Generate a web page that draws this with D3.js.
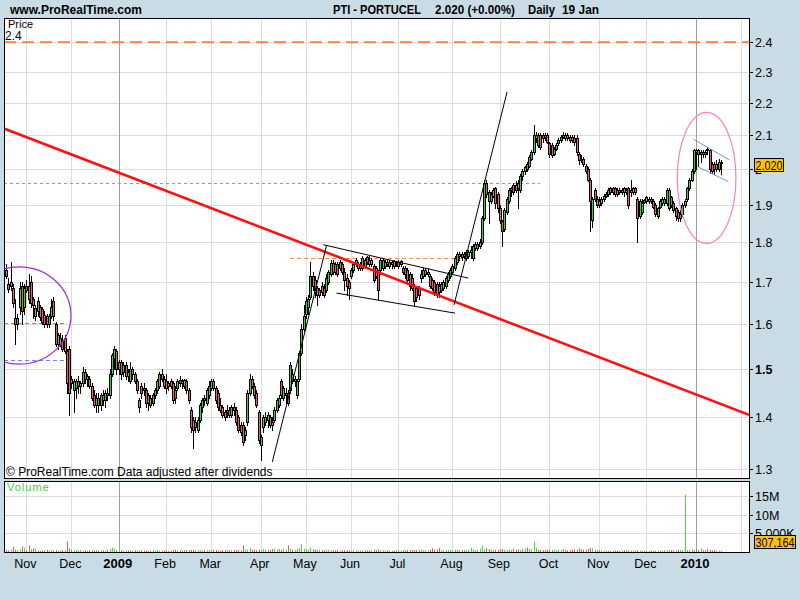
<!DOCTYPE html>
<html><head><meta charset="utf-8">
<script src="https://cdn.jsdelivr.net/npm/d3@7"></script>
<style>
body{margin:0;background:#c9dce6;}
svg{display:block;font-family:Arial,"Liberation Sans",sans-serif;}
</style>
</head><body>
<svg id="chart" width="800" height="600"></svg>
<script>
// ---------- DATA ----------
const opens=[
1.73,1.695,1.69,1.685,1.615,1.60,1.64,1.69,1.64,1.69,
1.69,1.70,1.66,1.62,1.655,1.64,1.635,1.622,1.62,1.60,
1.62,1.655,1.60,1.555,1.57,1.565,1.57,1.54,1.545,1.48,
1.455,1.46,1.475,1.465,1.47,1.495,1.48,1.48,1.465,1.445,
1.425,1.44,1.425,1.445,1.435,1.45,1.445,1.49,1.525,1.54,
1.50,1.515,1.495,1.51,1.485,1.475,1.50,1.49,1.475,1.42,
1.465,1.46,1.455,1.445,1.425,1.43,1.445,1.455,1.465,1.49,
1.48,1.475,1.465,1.475,1.47,1.455,1.46,1.478,1.475,1.465,
1.475,1.455,1.415,1.395,1.39,1.375,1.395,1.42,1.44,1.43,
1.445,1.46,1.475,1.46,1.45,1.425,1.42,1.41,1.41,1.415,
1.405,1.42,1.415,1.40,1.385,1.385,1.365,1.39,1.45,1.48,
1.465,1.45,1.41,1.345,1.38,1.39,1.395,1.40,1.39,1.395,
1.415,1.425,1.475,1.44,1.445,1.45,1.455,1.49,1.475,1.445,
1.48,1.535,1.59,1.625,1.64,1.665,1.715,1.705,1.685,1.67,
1.69,1.685,1.68,1.70,1.72,1.748,1.745,1.745,1.735,1.745,
1.725,1.71,1.70,1.715,1.73,1.745,1.735,1.745,1.735,1.74,
1.762,1.755,1.745,1.74,1.735,1.725,1.73,1.735,1.74,1.745,
1.74,1.745,1.752,1.745,1.74,1.745,1.735,1.735,1.73,1.72,
1.71,1.69,1.685,1.685,1.71,1.715,1.72,1.72,1.715,1.705,
1.70,1.695,1.69,1.68,1.685,1.69,1.705,1.715,1.725,1.735,
1.75,1.765,1.77,1.77,1.76,1.765,1.775,1.76,1.785,1.785,
1.79,1.80,1.865,1.96,1.935,1.91,1.925,1.945,1.93,1.89,
1.855,1.835,1.88,1.91,1.94,1.955,1.955,1.96,1.94,1.98,
1.995,2.015,2.01,2.03,2.05,2.09,2.10,2.10,2.10,2.10,
2.10,2.075,2.07,2.045,2.06,2.075,2.085,2.095,2.10,2.10,
2.095,2.095,2.09,2.09,2.045,2.03,2.03,2.01,2.00,1.97,
1.86,1.94,1.915,1.91,1.905,1.915,1.925,1.93,1.945,1.945,
1.945,1.94,1.94,1.935,1.945,1.935,1.945,1.94,1.935,1.945,
1.915,1.87,1.88,1.912,1.91,1.915,1.91,1.91,1.90,1.87,
1.895,1.905,1.905,1.905,1.89,1.92,1.905,1.89,1.88,1.865,
1.875,1.90,1.915,1.945,1.97,1.995,2.055,2.055,2.045,2.045,
2.045,2.06,2.055,2.015,2.015,2.00,2.00,2.02];
const highs=[
1.745,1.71,1.75,1.695,1.66,1.625,1.70,1.70,1.695,1.705,
1.72,1.715,1.665,1.645,1.665,1.645,1.64,1.63,1.625,1.625,
1.66,1.665,1.605,1.58,1.58,1.575,1.575,1.545,1.55,1.485,
1.48,1.48,1.485,1.475,1.505,1.50,1.49,1.485,1.47,1.455,
1.45,1.45,1.45,1.455,1.455,1.46,1.50,1.535,1.55,1.545,
1.52,1.52,1.515,1.515,1.50,1.515,1.505,1.495,1.48,1.44,
1.47,1.47,1.46,1.45,1.445,1.45,1.46,1.48,1.495,1.50,
1.485,1.49,1.475,1.48,1.475,1.465,1.48,1.485,1.48,1.48,
1.48,1.46,1.42,1.40,1.40,1.40,1.43,1.44,1.445,1.46,
1.475,1.48,1.48,1.465,1.455,1.44,1.425,1.415,1.425,1.42,
1.425,1.43,1.42,1.405,1.39,1.39,1.38,1.455,1.49,1.485,
1.47,1.455,1.415,1.365,1.405,1.41,1.41,1.405,1.40,1.42,
1.44,1.445,1.48,1.465,1.46,1.455,1.515,1.50,1.485,1.48,
1.54,1.60,1.645,1.665,1.67,1.75,1.725,1.715,1.69,1.685,
1.70,1.695,1.72,1.73,1.755,1.755,1.75,1.75,1.755,1.75,
1.735,1.72,1.705,1.735,1.75,1.76,1.75,1.75,1.765,1.76,
1.765,1.765,1.76,1.745,1.74,1.73,1.76,1.76,1.755,1.755,
1.755,1.752,1.755,1.75,1.755,1.755,1.74,1.74,1.735,1.725,
1.72,1.695,1.69,1.69,1.73,1.735,1.735,1.735,1.72,1.71,
1.705,1.70,1.70,1.70,1.705,1.715,1.725,1.735,1.745,1.765,
1.775,1.775,1.775,1.775,1.78,1.78,1.79,1.795,1.80,1.80,
1.81,1.87,1.97,1.97,1.94,1.935,1.945,1.95,1.935,1.90,
1.86,1.89,1.92,1.945,1.95,1.96,1.965,1.97,1.985,2.00,
2.01,2.02,2.04,2.055,2.13,2.11,2.105,2.105,2.105,2.105,
2.105,2.08,2.075,2.065,2.075,2.09,2.10,2.11,2.105,2.105,
2.10,2.10,2.10,2.10,2.05,2.04,2.035,2.015,2.005,1.975,
1.92,1.945,1.925,1.92,1.92,1.93,1.935,1.945,1.95,1.95,
1.95,1.945,1.945,1.945,1.95,1.945,1.95,1.97,1.95,1.95,
1.92,1.915,1.915,1.915,1.925,1.92,1.92,1.915,1.905,1.895,
1.915,1.92,1.92,1.945,1.945,1.925,1.91,1.895,1.885,1.885,
1.905,1.915,1.95,1.975,2.00,2.06,2.06,2.06,2.055,2.055,
2.055,2.065,2.06,2.02,2.02,2.025,2.03,2.025];
const lows=[
1.71,1.675,1.68,1.64,1.555,1.59,1.625,1.60,1.625,1.675,
1.65,1.64,1.615,1.61,1.62,1.61,1.60,1.595,1.595,1.595,
1.615,1.61,1.55,1.545,1.55,1.54,1.535,1.45,1.405,1.46,
1.41,1.44,1.45,1.45,1.465,1.47,1.465,1.46,1.435,1.42,
1.41,1.41,1.415,1.425,1.42,1.435,1.44,1.485,1.50,1.49,
1.49,1.48,1.485,1.48,1.475,1.47,1.48,1.47,1.45,1.41,
1.44,1.445,1.42,1.415,1.42,1.425,1.44,1.45,1.46,1.475,
1.46,1.45,1.455,1.46,1.43,1.43,1.455,1.465,1.46,1.46,
1.45,1.43,1.37,1.34,1.37,1.37,1.39,1.41,1.425,1.425,
1.44,1.455,1.455,1.43,1.415,1.41,1.40,1.395,1.40,1.40,
1.40,1.405,1.385,1.37,1.365,1.345,1.355,1.385,1.445,1.46,
1.44,1.42,1.35,1.317,1.37,1.385,1.38,1.38,1.375,1.39,
1.41,1.42,1.44,1.435,1.43,1.425,1.45,1.47,1.465,1.44,
1.475,1.53,1.585,1.615,1.625,1.66,1.68,1.665,1.645,1.665,
1.67,1.665,1.675,1.695,1.715,1.72,1.72,1.715,1.73,1.72,
1.68,1.67,1.66,1.71,1.725,1.74,1.73,1.73,1.73,1.735,
1.745,1.74,1.74,1.70,1.71,1.66,1.72,1.73,1.735,1.74,
1.735,1.735,1.735,1.74,1.735,1.74,1.72,1.71,1.70,1.68,
1.68,1.645,1.655,1.66,1.70,1.71,1.715,1.715,1.685,1.68,
1.67,1.665,1.665,1.675,1.68,1.685,1.70,1.71,1.72,1.73,
1.745,1.755,1.755,1.76,1.755,1.76,1.76,1.755,1.78,1.78,
1.785,1.795,1.86,1.92,1.85,1.905,1.92,1.89,1.88,1.85,
1.79,1.83,1.875,1.905,1.925,1.93,1.935,1.89,1.935,1.97,
1.985,1.995,2.005,2.025,2.045,2.08,2.065,2.06,2.08,2.085,
2.075,2.035,2.035,2.04,2.055,2.07,2.08,2.09,2.085,2.085,
2.08,2.08,2.07,2.04,2.015,2.02,2.01,1.99,1.965,1.83,
1.84,1.91,1.895,1.895,1.90,1.91,1.92,1.925,1.93,1.93,
1.925,1.925,1.93,1.93,1.925,1.93,1.89,1.925,1.93,1.93,
1.80,1.865,1.875,1.905,1.905,1.905,1.905,1.89,1.87,1.865,
1.89,1.90,1.90,1.90,1.885,1.895,1.88,1.86,1.855,1.855,
1.87,1.895,1.91,1.94,1.965,1.99,2.00,2.01,2.02,2.035,
2.035,2.045,1.99,1.99,1.985,1.995,1.995,1.985];
const closes=[
1.715,1.683,1.70,1.65,1.60,1.615,1.685,1.63,1.685,1.68,
1.66,1.65,1.645,1.637,1.63,1.618,1.605,1.60,1.60,1.62,
1.64,1.62,1.555,1.575,1.555,1.545,1.54,1.47,1.45,1.47,
1.475,1.475,1.465,1.47,1.495,1.48,1.485,1.465,1.44,1.425,
1.44,1.425,1.445,1.435,1.45,1.445,1.49,1.53,1.545,1.50,
1.515,1.49,1.51,1.485,1.495,1.50,1.49,1.475,1.455,1.435,
1.45,1.455,1.43,1.43,1.44,1.445,1.455,1.475,1.49,1.48,
1.465,1.46,1.47,1.465,1.435,1.44,1.475,1.47,1.47,1.478,
1.455,1.435,1.38,1.375,1.38,1.395,1.425,1.435,1.435,1.455,
1.465,1.475,1.46,1.435,1.42,1.415,1.405,1.40,1.415,1.405,
1.42,1.415,1.39,1.375,1.37,1.352,1.375,1.45,1.48,1.465,
1.445,1.425,1.355,1.36,1.40,1.40,1.405,1.385,1.385,1.415,
1.435,1.44,1.445,1.46,1.45,1.43,1.51,1.475,1.48,1.475,
1.535,1.59,1.62,1.655,1.66,1.715,1.69,1.675,1.67,1.68,
1.675,1.67,1.71,1.725,1.748,1.725,1.725,1.72,1.75,1.725,
1.705,1.69,1.685,1.73,1.745,1.755,1.745,1.735,1.76,1.755,
1.75,1.745,1.755,1.705,1.715,1.68,1.755,1.755,1.75,1.75,
1.75,1.75,1.74,1.748,1.75,1.752,1.725,1.72,1.705,1.69,
1.685,1.655,1.665,1.67,1.72,1.73,1.73,1.725,1.69,1.685,
1.675,1.67,1.675,1.695,1.70,1.71,1.72,1.73,1.74,1.76,
1.77,1.77,1.762,1.765,1.775,1.775,1.78,1.79,1.795,1.795,
1.80,1.865,1.96,1.93,1.91,1.93,1.94,1.905,1.89,1.86,
1.83,1.885,1.915,1.94,1.945,1.935,1.94,1.945,1.98,1.995,
2.005,2.00,2.035,2.05,2.10,2.10,2.07,2.065,2.09,2.095,
2.08,2.045,2.04,2.06,2.07,2.085,2.095,2.10,2.09,2.09,
2.085,2.085,2.08,2.05,2.025,2.025,2.015,1.995,1.97,1.91,
1.915,1.915,1.90,1.90,1.915,1.925,1.93,1.94,1.935,1.935,
1.93,1.93,1.935,1.94,1.935,1.94,1.90,1.935,1.945,1.935,
1.865,1.91,1.905,1.908,1.92,1.91,1.915,1.895,1.875,1.89,
1.91,1.915,1.915,1.94,1.94,1.90,1.885,1.87,1.865,1.875,
1.90,1.91,1.945,1.97,1.995,2.055,2.05,2.045,2.05,2.05,
2.05,2.055,2.00,1.995,2.00,2.015,2.02,2.02];
// volume in millions of shares
const volumes=[
0.55,0.45,0.7,1.4,0.6,0.5,0.75,1.5,1.15,0.4,
1.8,0.7,1.0,0.95,0.4,0.3,0.35,0.4,0.55,0.3,
0.6,0.45,0.5,0.4,0.35,0.5,0.45,2.9,1.0,0.6,
0.45,0.55,0.4,0.5,0.35,0.45,0.3,0.5,0.4,0.45,
0.6,0.35,0.55,0.45,0.3,0.6,0.8,1.2,0.9,0.5,
0.55,0.45,0.4,0.35,0.5,0.4,0.3,0.45,0.35,0.4,
0.5,0.35,0.4,0.3,0.45,0.55,0.4,0.5,0.35,0.3,
0.45,0.4,0.3,0.35,0.5,0.6,0.45,0.4,0.35,0.55,
0.5,0.45,0.6,0.55,0.4,0.5,0.45,0.35,0.5,0.4,
0.45,0.5,0.6,0.55,0.4,0.35,0.5,0.45,0.6,0.5,
0.45,0.6,0.5,0.55,0.45,1.8,0.7,0.6,1.0,0.55,
0.7,0.5,0.6,0.55,0.8,0.65,0.6,0.5,0.8,0.9,
0.7,0.8,0.6,0.9,0.6,1.8,0.9,0.7,0.6,0.8,
1.0,2.1,0.9,0.8,0.6,1.2,0.7,0.6,0.5,0.55,
0.5,0.45,0.6,0.55,0.5,0.4,0.45,0.5,0.4,0.45,
0.5,0.55,0.45,0.4,0.5,0.45,0.4,0.35,0.45,0.5,
0.45,0.4,0.5,0.6,0.45,0.7,0.5,0.45,0.4,0.5,
0.45,0.35,0.4,0.5,0.45,0.4,0.5,0.45,0.6,0.55,
0.5,0.6,0.55,0.5,0.6,0.45,0.5,0.45,0.6,1.0,
0.6,0.7,1.15,0.5,0.45,0.55,0.5,0.6,0.55,0.7,
0.6,0.55,0.5,0.45,0.5,0.6,1.15,0.7,0.5,0.6,
0.9,1.8,0.7,1.0,0.8,0.55,0.5,0.6,0.55,0.7,
0.8,0.6,0.5,0.65,0.55,0.9,0.6,0.7,0.5,0.8,
1.0,1.2,0.9,0.7,2.9,1.15,0.6,0.55,0.5,0.45,
0.6,0.55,0.5,0.7,0.45,0.6,0.5,0.8,0.55,0.45,
0.5,0.6,0.7,0.55,1.0,0.7,0.6,0.65,0.8,1.1,
1.0,0.6,0.5,0.45,0.4,0.35,0.3,0.4,0.35,0.3,
0.4,0.35,0.3,0.45,0.4,0.5,0.45,0.35,0.4,0.3,
0.5,0.4,0.3,0.35,0.45,0.3,0.4,0.35,0.3,0.4,
0.35,0.3,0.45,0.4,0.55,0.5,0.45,0.4,0.6,0.55,
0.45,15.4,0.5,0.45,0.7,0.6,0.8,0.5,1.0,0.6,
0.5,0.8,0.6,0.45,0.5,0.4,0.35,0.307164];

// month boundaries (trading-day index) and labels
const monthIdx=[9,29,50,71,91,113,133,153,174,198,219,241,263,284,306];
const monthLabels=["Nov","Dec","2009","Feb","Mar","Apr","May","Jun","Jul","Aug","Sep","Oct","Nov","Dec","2010"];
const yearIdx=[50,306];
const extraGridIdx=[326];
const priceTicks=[2.4,2.3,2.2,2.1,2.0,1.9,1.8,1.7,1.6,1.5,1.4,1.3];
const priceTickLabels=["2.4","2.3","2.2","2.1","2","1.9","1.8","1.7","1.6","1.5","1.4","1.3"];
const volTicks=[15,10,5];
const volTickLabels=["15M","10M","5,000K"];
const lastPrice=2.020, lastPriceLabel="2.020", lastVolLabel="307,164";
const headerSite="www.ProRealTime.com";
const headerParts=["PTI - PORTUCEL","2.020 (+0.00%)","Daily","19 Jan"];

// drawn annotations, as [trading-day index, price]
const redTrend=[[-0.9,2.12],[329.5,1.405]];
const blackLines=[
  [[118.1,1.313],[142.1,1.791]],
  [[140.7,1.794],[205.0,1.710]],
  [[146.6,1.6735],[199.1,1.626]],
  [[198.7,1.6456],[222.2,2.2346]]];
const blueChannel=[
  [[304.8,2.0877],[320.8,2.0266]],
  [[306.6,2.0073],[320.3,1.9644]]];
const topDashLevel=2.4;
const resistLevel=[126,208.4,1.759];
const blueLevelLong=[-0.9,236.8,1.960];
const blueLevelsLeft=[[-0.9,26.2,1.604],[-0.9,26.2,1.520]];
const leftEllipse={cx:5.8,rx:23.0,top:1.738,bottom:1.511};
const rightEllipse={cx:310.7,rx:13.0,top:2.170,bottom:1.797};

// ---------- DRAWING ----------
const svg=d3.select("#chart");
const L=4,R=749,T=18,B=478,VT=481,VB=552;
const x=d3.scaleLinear().domain([0,317]).range([6,6+317*2.255]);
const y=d3.scaleLog().domain([1.283,2.485]).range([B,T]);
const yv=d3.scaleLinear().domain([0,19]).range([VB,VT+0.3]);
const GREEN="#3fcf3f",RED="#e36464";

const defs=svg.append("defs");
defs.append("clipPath").attr("id","cm").append("rect").attr("x",L).attr("y",T).attr("width",R-L).attr("height",B-T);
defs.append("clipPath").attr("id","cv").append("rect").attr("x",L).attr("y",VT).attr("width",R-L).attr("height",VB-VT);

// header
svg.append("text").attr("x",10).attr("y",14).attr("font-size",12).attr("font-weight","bold").text(headerSite);
const headerX=[333,435,528,562], headerW=[88,80,27,37];
headerParts.forEach((t,k)=>svg.append("text").attr("x",headerX[k]).attr("y",14).attr("font-size",12.5).attr("font-weight","bold")
  .attr("textLength",headerW[k]).attr("lengthAdjust","spacingAndGlyphs").text(t));

// panels
svg.append("rect").attr("x",L+0.5).attr("y",T+0.5).attr("width",R-L).attr("height",B-T).attr("fill","#fff");
svg.append("rect").attr("x",L+0.5).attr("y",VT+0.5).attr("width",R-L).attr("height",VB-VT).attr("fill","#fff");

const gm=svg.append("g").attr("clip-path","url(#cm)");
const gv=svg.append("g").attr("clip-path","url(#cv)");

// grid
const px=v=>Math.round(v)+0.5;
priceTicks.forEach(p=>{
  gm.append("line").attr("x1",L).attr("x2",R).attr("y1",px(y(p))).attr("y2",px(y(p))).attr("stroke","#dcdcdc");
});
volTicks.forEach(v=>{
  gv.append("line").attr("x1",L).attr("x2",R).attr("y1",px(yv(v))).attr("y2",px(yv(v))).attr("stroke","#dcdcdc");
});
monthIdx.concat(extraGridIdx).forEach(i=>{
  const c=yearIdx.includes(i)?"#a0a0a0":"#dcdcdc";
  [gm,gv].forEach(g=>g.append("line").attr("x1",px(x(i))).attr("x2",px(x(i))).attr("y1",T).attr("y2",VB).attr("stroke",c));
});

// level lines
gm.append("line").attr("x1",L).attr("x2",R).attr("y1",y(topDashLevel)).attr("y2",y(topDashLevel))
  .attr("stroke","#ff8040").attr("stroke-width",2).attr("stroke-dasharray","12,6");
gm.append("line").attr("x1",x(blueLevelLong[0])).attr("x2",x(blueLevelLong[1])).attr("y1",px(y(blueLevelLong[2]))).attr("y2",px(y(blueLevelLong[2])))
  .attr("stroke","#7b9be8").attr("stroke-dasharray","3,3");
blueLevelsLeft.forEach(b=>{
  gm.append("line").attr("x1",x(b[0])).attr("x2",x(b[1])).attr("y1",px(y(b[2]))).attr("y2",px(y(b[2])))
    .attr("stroke","#5f8cff").attr("stroke-dasharray","4,3");
});
gm.append("line").attr("x1",x(resistLevel[0])).attr("x2",x(resistLevel[1])).attr("y1",px(y(resistLevel[2]))).attr("y2",px(y(resistLevel[2])))
  .attr("stroke","#ff8833").attr("stroke-dasharray","4,3");

// candles
const idx=d3.range(opens.length);
idx.forEach(i=>{
  const xc=Math.round(x(i));
  const up=closes[i]>=opens[i];
  gm.append("line").attr("x1",xc+0.5).attr("x2",xc+0.5)
    .attr("y1",Math.round(y(highs[i]))).attr("y2",Math.round(y(lows[i]))+1).attr("stroke","#000");
  const y1=Math.round(y(Math.max(opens[i],closes[i]))), y2=Math.round(y(Math.min(opens[i],closes[i])));
  gm.append("rect").attr("x",xc-0.5).attr("y",y1+0.5).attr("width",2).attr("height",Math.max(1,y2-y1))
    .attr("fill",up?GREEN:RED).attr("stroke","#000").attr("stroke-width",1);
});

// trend lines
const line=d3.line().x(d=>x(d[0])).y(d=>y(d[1]));
gm.append("path").attr("d",line(redTrend)).attr("stroke","#ff1010").attr("stroke-width",2.6).attr("fill","none");
blackLines.forEach(l=>gm.append("path").attr("d",line(l)).attr("stroke","#000").attr("stroke-width",1).attr("fill","none"));
blueChannel.forEach(l=>gm.append("path").attr("d",line(l)).attr("stroke","#6f96ee").attr("stroke-width",1).attr("fill","none"));

// ellipses
function ell(e,color){
  const cy=(y(e.top)+y(e.bottom))/2, ry=(y(e.bottom)-y(e.top))/2;
  gm.append("ellipse").attr("cx",x(e.cx)).attr("cy",cy).attr("rx",x(e.cx+e.rx)-x(e.cx)).attr("ry",ry)
    .attr("fill","none").attr("stroke",color).attr("stroke-width",1.2);
}
ell(leftEllipse,"#9a2fd0");
ell(rightEllipse,"#ff7fc0");

// volume bars
idx.forEach(i=>{
  const xc=Math.round(x(i))+0.5;
  gv.append("line").attr("x1",xc).attr("x2",xc).attr("y1",yv(volumes[i])).attr("y2",VB)
    .attr("stroke",closes[i]>=opens[i]?"#44dd44":"#e06060").attr("stroke-width",1);
});

// panel borders
svg.append("rect").attr("x",L+0.5).attr("y",T+0.5).attr("width",R-L).attr("height",B-T).attr("fill","none").attr("stroke","#000");
svg.append("rect").attr("x",L+0.5).attr("y",VT+0.5).attr("width",R-L).attr("height",VB-VT).attr("fill","none").attr("stroke","#000");

// panel texts
svg.append("text").attr("x",8).attr("y",28).attr("font-size",11).text("Price");
svg.append("text").attr("x",5).attr("y",40).attr("font-size",12).text("2.4");
svg.append("text").attr("x",6).attr("y",476).attr("font-size",12).text("© ProRealTime.com  Data adjusted after dividends");
svg.append("text").attr("x",7).attr("y",491).attr("font-size",11).attr("fill","#44cc44").attr("letter-spacing",1).text("Volume");

// right price axis
priceTicks.forEach((p,k)=>{
  const yy=px(y(p));
  svg.append("line").attr("x1",R).attr("x2",R+4).attr("y1",yy).attr("y2",yy).attr("stroke","#000");
  svg.append("text").attr("x",R+6).attr("y",yy+4.5).attr("font-size",12.5)
    .attr("font-weight",priceTickLabels[k]==="1.5"?"bold":"normal").text(priceTickLabels[k]);
});
// volume axis
volTicks.forEach((v,k)=>{
  const yy=px(yv(v));
  svg.append("line").attr("x1",R).attr("x2",R+4).attr("y1",yy).attr("y2",yy).attr("stroke","#000");
  svg.append("text").attr("x",R+6).attr("y",yy+4.5).attr("font-size",12.5).text(volTickLabels[k]);
});

// last value labels
function tag(yc,w,txt,fs){
  svg.append("rect").attr("x",R+5.5).attr("y",Math.round(yc-6.5)+0.5).attr("width",w).attr("height",13)
    .attr("fill","#ffc400").attr("stroke","#000");
  svg.append("text").attr("x",R+6.5).attr("y",Math.round(yc-6.5)+11.5).attr("font-size",fs)
    .attr("textLength",w-2).attr("lengthAdjust","spacingAndGlyphs").text(txt);
}
tag(y(lastPrice)+2,29,lastPriceLabel,12);
tag(541.5,41,lastVolLabel,12);

// bottom month labels
monthIdx.forEach((i,k)=>{
  const isYear=yearIdx.includes(i);
  svg.append("text").attr("x",x(i)-1).attr("y",568).attr("text-anchor","middle")
    .attr("font-size",isYear?13:12.5).attr("font-weight",isYear?"bold":"normal").text(monthLabels[k]);
});
</script>
</body></html>
